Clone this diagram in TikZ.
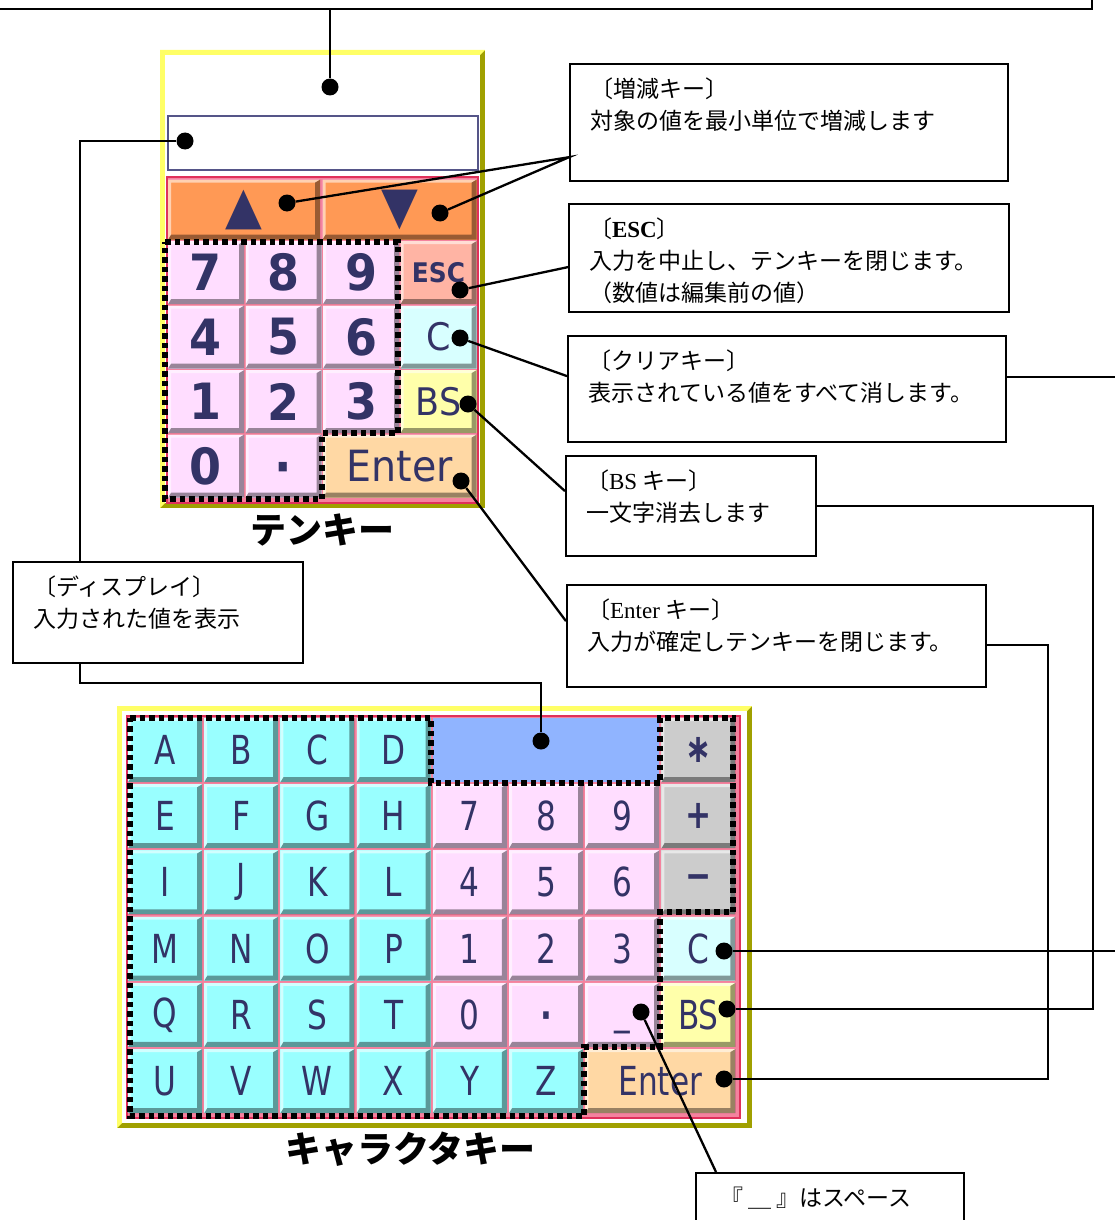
\documentclass[tikz,border=0pt]{standalone}
\usepackage{fontspec}
\setmainfont{Liberation Serif}
\newfontfamily\cjk{Noto Sans CJK JP}
\newfontfamily\tkfont[FakeStretch=0.92]{DejaVu Sans}
\newfontfamily\ckfont[FakeStretch=0.78]{DejaVu Sans}
\usetikzlibrary{positioning}

\definecolor{keytext}{HTML}{333366}
\definecolor{yellowbd}{HTML}{FFFF66}
\definecolor{olivebd}{HTML}{A0A000}
\definecolor{keybg}{HTML}{F4829E}
\definecolor{keyred}{HTML}{E0305A}
\definecolor{arrkey}{HTML}{FF9955}
\definecolor{esckey}{HTML}{FFB4A4}
\definecolor{pinkkey}{HTML}{FFDDFF}
\definecolor{cyankey}{HTML}{99FFFF}
\definecolor{greykey}{HTML}{CCCCCC}
\definecolor{clrkey}{HTML}{D8FFFF}
\definecolor{bskey}{HTML}{FFFFAA}
\definecolor{entkey}{HTML}{FFD8A4}
\definecolor{dispblue}{HTML}{90B4FF}
\definecolor{tkdispbd}{HTML}{555588}

% note text: fixed height, top aligned
\newcommand\notetext[3]{\parbox[c][#1][t]{#2}{\cjk\fontsize{23}{32}\selectfont\rule{0pt}{33pt}#3}}

\begin{document}
\begin{tikzpicture}[x=1pt, y=-1pt,
    bevel/.style={path picture={
        \coordinate (bsw) at (path picture bounding box.south west);
        \coordinate (bse) at (path picture bounding box.south east);
        \coordinate (bnw) at (path picture bounding box.north west);
        \coordinate (bne) at (path picture bounding box.north east);
        \fill[black,opacity=.4] (bsw) -- (bse) -- (bne) -- ([shift={(-5pt,-3pt)}]bne) -- ([shift={(-5pt,5pt)}]bse) -- ([shift={(3pt,5pt)}]bsw) -- cycle;
        \fill[white,opacity=.55] (bsw) -- (bnw) -- (bne) -- ([shift={(-5pt,-3pt)}]bne) -- ([shift={(3pt,-3pt)}]bnw) -- ([shift={(3pt,5pt)}]bsw) -- cycle;
      }},
    keycap/.style={fill=#1, inner sep=0pt, text=keytext, bevel},
    tkey/.style={keycap=#1, minimum width=76pt, minimum height=63pt, font=\tkfont\bfseries\fontsize{50}{50}\selectfont},
    ckey/.style={keycap=#1, minimum width=74pt, minimum height=64pt, font=\ckfont\fontsize{40}{40}\selectfont},
    panel/.style={inner sep=0pt, path picture={
        \coordinate (psw) at (path picture bounding box.south west);
        \coordinate (pnw) at (path picture bounding box.north west);
        \coordinate (pne) at (path picture bounding box.north east);
        \fill[olivebd] (psw) rectangle (pne);
        \fill[yellowbd] (psw) -- (pnw) -- (pne) -- ([shift={(-5pt,-5pt)}]pne) -- ([shift={(5pt,-5pt)}]pnw) -- ([shift={(5pt,5pt)}]psw) -- cycle;
        \fill[white] ([shift={(5pt,5pt)}]psw) rectangle ([shift={(-5pt,-5pt)}]pne);
      }},
    keyarea/.style={fill=keybg, draw=keyred, line width=1.2pt},
    note/.style={draw, fill=white, line width=2.2pt, anchor=north west, inner xsep=20pt, inner ysep=0pt},
    blob/.style={circle, fill=black, inner sep=0pt, minimum size=17pt},
    lead/.style={line width=2.3pt},
    guide/.style={line width=6pt, dash pattern=on 5.5pt off 4pt},
    caption/.style={font=\cjk\bfseries\fontsize{36}{36}\selectfont, inner sep=0pt}
  ]
  \clip (0,0) rectangle (1115,1220);

  % ten key
  \node[panel, minimum width=325pt, minimum height=458pt] (tenkey) at (322.5,279) {};
  \node[caption, below=5pt of tenkey] (tklabel) {テンキー};
  \node[draw=tkdispbd, line width=2pt, fill=white, minimum width=310pt, minimum height=53pt, inner sep=0pt] (tkdisp) at (322.5,143) {};
  \draw[keyarea] (167,177) rectangle (478,503);
  \node[keycap=arrkey, minimum width=152pt, minimum height=60pt, font=\tkfont\fontsize{52}{52}\selectfont] (tkup) at (244,209.5) {▲};
  \node[keycap=arrkey, minimum width=154pt, minimum height=60pt, font=\tkfont\fontsize{52}{52}\selectfont] (tkdown) at (399.5,209.5) {▼};
  \foreach \lab [count=\i from 0] in {7,8,9,4,5,6,1,2,3,0}
    \node[tkey=pinkkey] (tk\lab) at ({206+77.5*mod(\i,3)}, {272.5+64.5*int(\i/3)}) {\lab};
  \node[tkey=pinkkey] (tkpoint) at (283.5,466) {\vphantom{0}·};
  \node[tkey=esckey, font=\tkfont\bfseries\fontsize{27}{27}\selectfont] (tkesc) at (438.5,272.5) {ESC};
  \node[tkey=clrkey, font=\tkfont\fontsize{38}{38}\selectfont] (tkclr) at (438.5,337) {C};
  \node[tkey=bskey, font=\tkfont\fontsize{38}{38}\selectfont] (tkbs) at (438.5,401.5) {BS};
  \node[tkey=entkey, minimum width=153.5pt, font=\tkfont\fontsize{43}{43}\selectfont] (tkent) at (399.75,466) {Enter};
  \draw[guide] (165,242) -- (398,242) -- (398,433) -- (322,433) -- (322,499) -- (165,499) -- cycle;

  % character key
  \node[panel, minimum width=635pt, minimum height=422pt] (charkey) at (434.5,917) {};
  \node[caption, below=3pt of charkey, xshift=-24pt] (cklabel) {キャラクタキー};
  \draw[keyarea] (127,716) rectangle (740,1118);
  \foreach \lab [count=\i from 0] in {A,...,Z}{
    \pgfmathsetmacro\cx{165+76.2*(\i<24 ? mod(\i,4) : \i-20)}
    \pgfmathsetmacro\cy{750+66.2*(\i<24 ? int(\i/4) : 5)}
    \node[ckey=cyankey] (ck\lab) at (\cx,\cy) {\lab};
  }
  \foreach \lab [count=\i from 0] in {7,8,9,4,5,6,1,2,3,0}
    \node[ckey=pinkkey] (ck\lab) at ({469.8+76.2*mod(\i,3)}, {816.2+66.2*int(\i/3)}) {\lab};
  \node[ckey=pinkkey, font=\ckfont\bfseries\fontsize{40}{40}\selectfont] (ckpoint) at (546,1014.8) {\vphantom{0}·};
  \node[ckey=pinkkey] (ckspc) at (622.2,1014.8) {\vphantom{0}\_};
  \foreach \lab/\nm [count=\i from 0] in {∗/star,+/plus,−/minus}
    \node[ckey=greykey, font=\ckfont\bfseries\fontsize{40}{40}\selectfont] (ck\nm) at (698.4,{750+66.2*\i}) {\lab};
  \node[ckey=clrkey] (ckclr) at (698.4,948.6) {C};
  \node[ckey=bskey] (ckbs) at (698.4,1014.8) {BS};
  \node[ckey=entkey, minimum width=150pt] (ckent) at (660.3,1081) {Enter};
  \node[fill=dispblue, minimum width=226pt, minimum height=64pt, inner sep=0pt] (ckdisp) at (546,750) {};
  \draw[guide] (130,718) -- (431,718) -- (431,783) -- (660,783) -- (660,718) -- (733,718) -- (733,912)
    -- (660,912) -- (660,1047) -- (584,1047) -- (584,1116) -- (130,1116) -- cycle;

  % dots
  \node[blob] (dtop) at (330,87) {};
  \node[blob] (dtdisp) at (185,141) {};
  \node[blob] (dup) at (287,203) {};
  \node[blob] (ddown) at (440,213) {};
  \node[blob] (desc) at (460,290) {};
  \node[blob] (dtclr) at (460,338) {};
  \node[blob] (dtbs) at (468,404) {};
  \node[blob] (dtent) at (461,481) {};
  \node[blob] (dcdisp) at (541,741) {};
  \node[blob] (dcclr) at (724,951) {};
  \node[blob] (dcbs) at (727,1009) {};
  \node[blob] (dcent) at (724,1079) {};
  \node[blob] (dspc) at (641,1012) {};

  \coordinate (dispbend) at (80,683);
  \draw[lead] (dtdisp) -| (dispbend) -| (dcdisp);

  % notes
  \node[draw, fill=white, line width=2.2pt, minimum width=1130pt, minimum height=60pt, inner sep=0pt, anchor=south east] (topnote) at (1093,10) {};
  \node[note] (incnote) at (569,63) {\notetext{117pt}{398pt}{〔増減キー〕\\対象の値を最小単位で増減します}};
  \node[note] (escnote) at (568,203) {\notetext{108pt}{400pt}{〔{\rmfamily\bfseries ESC}〕\\入力を中止し、テンキーを閉じます。\\（数値は編集前の値）}};
  \node[note] (clrnote) at (567,335) {\notetext{106pt}{398pt}{〔クリアキー〕\\表示されている値をすべて消します。}};
  \node[note] (bsnote) at (565,455) {\notetext{100pt}{210pt}{〔{\rmfamily BS} キー〕\\一文字消去します}};
  \node[note] (entnote) at (566,584) {\notetext{102pt}{379pt}{〔{\rmfamily Enter} キー〕\\入力が確定しテンキーを閉じます。}};
  \node[note] (dispnote) at (12,561) {\notetext{101pt}{250pt}{〔ディスプレイ〕\\入力された値を表示}};
  \node[note, inner xsep=24pt] (spcnote) at (695,1172) {\notetext{70pt}{220pt}{『 ＿ 』はスペース}};

  % leaders
  \draw[lead] (topnote.south -| dtop) -- (dtop);
  \draw[lead] (dup) -- ([yshift=25pt]incnote.south west) -- (ddown);
  \draw[lead] (desc) -- ([yshift=-9pt]escnote.west);
  \draw[lead] (dtclr) -- ([yshift=13pt]clrnote.west);
  \draw[lead] (dtbs) -- ([yshift=15pt]bsnote.west);
  \draw[lead] (dtent) -- ([yshift=15pt]entnote.west);
  \coordinate (clrbend) at (1130,951);
  \draw[lead] ([yshift=12pt]clrnote.east) -| (clrbend) -- (dcclr);
  \coordinate (bsbend) at (1093,1009);
  \draw[lead] (bsnote.east) -| (bsbend) -- (dcbs);
  \coordinate (entbend) at (1048,1079);
  \draw[lead] ([yshift=-9pt]entnote.east) -| (entbend) -- (dcent);
  \draw[lead] (dspc) -- ([xshift=21pt]spcnote.north west);
\end{tikzpicture}
\end{document}
